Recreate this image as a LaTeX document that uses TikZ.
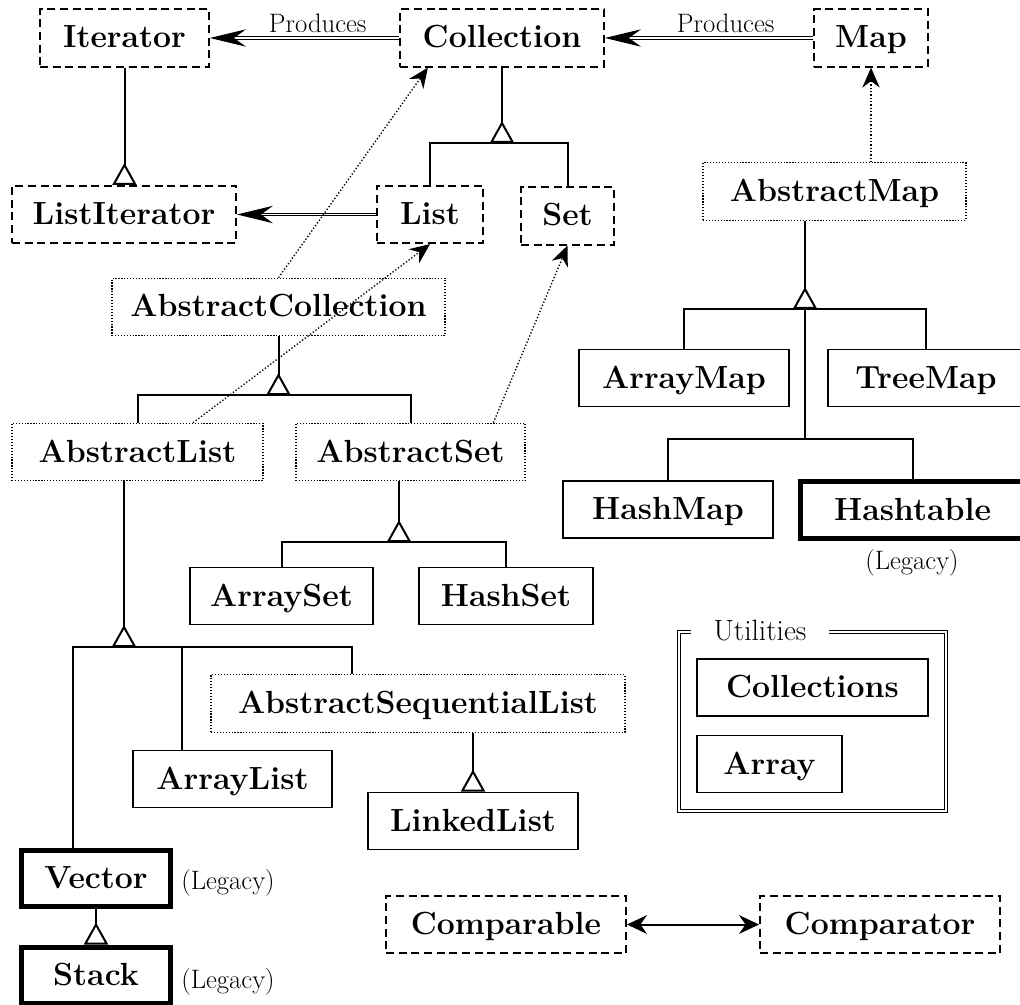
\documentclass[tikz,border=0pt]{standalone}
\usetikzlibrary{arrows.meta,calc}

\tikzset{
  box/.style={draw, line width=1.2pt, minimum height=43pt, inner sep=0pt,
    text height=16pt, text depth=1pt, font=\fontsize{24}{28}\selectfont\bfseries},
  iface/.style={box, line width=1.4pt, dash pattern=on 6pt off 3.5pt},
  abstr/.style={box, line width=0.9pt, dash pattern=on 0.9pt off 1.3pt},
  cls/.style={box},
  legacy/.style={box, line width=3.75pt},
  note/.style={font=\fontsize{20}{24}\selectfont},
  utilframe/.style={draw, double, line width=0.8pt, double distance=2pt, inner sep=0pt},
  bar/.style={line width=1.5pt},
  gen/.style={bar, -{Triangle[reversed, fill=white, width=18pt, length=16.5pt]}},
  produce/.style={double, line width=0.7pt, double distance=1pt,
    -{Stealth[length=27pt, width=13pt, inset=9pt]}},
  dep/.style={line width=1pt, dash pattern=on 1pt off 1.5pt,
    -{Stealth[length=15pt, width=13pt]}},
  assoc/.style={bar, {Stealth[length=15pt, width=14pt]}-{Stealth[length=15pt, width=14pt]}}
}

\begin{document}
\begin{tikzpicture}[x=0.75pt, y=-0.75pt]
  \useasboundingbox (0,0) rectangle (1020,1005);

  % interfaces
  \node[iface, minimum width=126.75pt] (iterator) at (124.5,38) {Iterator};
  \node[iface, minimum width=153pt] (collection) at (502,38) {Collection};
  \node[iface, minimum width=85.5pt] (map) at (871,38) {Map};
  \node[iface, minimum width=168pt] (listiterator) at (124,214.5) {ListIterator};
  \node[iface, minimum width=79.5pt] (list) at (430,214.5) {List};
  \node[iface, minimum width=69.75pt] (set) at (567.5,216) {Set};
  \node[iface, minimum width=180pt] (comparable) at (506,924.5) {Comparable};
  \node[iface, minimum width=180pt] (comparator) at (880,924.5) {Comparator};

  % abstract classes
  \node[abstr, minimum width=197.25pt] (abstractmap) at (834.5,191.5) {AbstractMap};
  \node[abstr, minimum width=249.75pt] (abstractcollection) at (278.5,307) {AbstractCollection};
  \node[abstr, minimum width=188.25pt] (abstractlist) at (137.5,452) {AbstractList};
  \node[abstr, minimum width=171.75pt] (abstractset) at (410.5,452) {AbstractSet};
  \node[abstr, minimum width=310.5pt] (abstractseqlist) at (418,703.5) {AbstractSequentialList};

  % classes
  \node[cls, minimum width=137.25pt] (arrayset) at (281.5,596) {ArraySet};
  \node[cls, minimum width=130.5pt] (hashset) at (506,596) {HashSet};
  \node[cls, minimum width=157.5pt] (arraymap) at (684,378) {ArrayMap};
  \node[cls, minimum width=147pt] (treemap) at (926,378) {TreeMap\hspace{15pt}};
  \node[cls, minimum width=157.5pt] (hashmap) at (668,509.5) {HashMap};
  \node[cls, minimum width=149.25pt] (arraylist) at (232.5,779) {ArrayList};
  \node[cls, minimum width=157.5pt] (linkedlist) at (473,821) {LinkedList};

  % legacy classes
  \node[legacy, minimum width=168pt] (hashtable) at (912.5,510) {Hashtable\hspace{12pt}};
  \node[legacy, minimum width=111.75pt, minimum height=42pt] (vector) at (96,878.5) {Vector};
  \node[legacy, minimum width=111.75pt, minimum height=42pt] (stack) at (96,975) {Stack};
  \node[note] (hashtablenote) at (912,563) {(Legacy)};
  \node[note] (vectornote) at (228,883) {(Legacy)};
  \node[note] (stacknote) at (228,982) {(Legacy)};

  % utilities
  \node[utilframe, minimum width=200.25pt, minimum height=134.25pt] (utilities) at (812.5,721.5) {};
  \node[fill=white, minimum width=104pt, inner sep=2pt, font=\fontsize{22}{26}\selectfont] (utilitiestitle) at (760,631) {Utilities};
  \node[cls, minimum width=173.25pt] (collections) at (812.5,687.5) {Collections};
  \node[cls, minimum width=108.75pt] (array) at (769.5,764) {Array};

  % produces
  \draw[produce] (collection.west) -- (iterator.east)
    node[note, pos=0.43, above] (producesiterator) {Produces};
  \draw[produce] (map.west) -- (collection.east)
    node[note, pos=0.42, above] (producescollection) {Produces};
  \draw[produce] (list.west) -- (listiterator.east);

  % inheritance
  \draw[gen] (iterator.south) -- (iterator.south |- listiterator.north);

  \coordinate (collbar) at (502,143);
  \draw[gen] (collection.south) -- (collbar);
  \draw[bar] (list.north) |- (collbar) -| (set.north);

  \coordinate (acbar) at (278.5,395);
  \draw[gen] (abstractcollection.south) -- (acbar);
  \draw[bar] (abstractlist.north) |- (acbar) -| (abstractset.north);

  \coordinate (asbar) at (399,542);
  \draw[gen] (asbar |- abstractset.south) -- (asbar);
  \draw[bar] (arrayset.north) |- (asbar) -| (hashset.north);

  \coordinate (albar) at (124,647);
  \coordinate (arraylisttop) at ($(arraylist.north west)!0.25!(arraylist.north east)$);
  \draw[gen] (albar |- abstractlist.south) -- (albar);
  \draw[bar] ($(vector.north west)!0.35!(vector.north east)$) |- (albar)
    -| ($(abstractseqlist.north west)!0.34!(abstractseqlist.north east)$);
  \draw[bar] (arraylisttop) -- (arraylisttop |- albar);
  \draw[gen] (abstractseqlist.south -| linkedlist.north) -- (linkedlist.north);
  \draw[gen] (vector.south) -- (stack.north);

  \coordinate (ambar) at (805,309);
  \coordinate (hmbar) at (805,439);
  \draw[gen] (ambar |- abstractmap.south) -- (ambar);
  \draw[bar] (arraymap.north) |- (ambar) -| (treemap.north);
  \draw[bar] (ambar) -- (hmbar);
  \draw[bar] (hashmap.north) |- (hmbar) -| (hashtable.north);

  % implements
  \draw[dep] (abstractcollection.north) -- ($(collection.south west)!0.14!(collection.south east)$);
  \draw[dep] ($(abstractlist.north west)!0.72!(abstractlist.north east)$) -- (list.south);
  \draw[dep] ($(abstractset.north west)!0.86!(abstractset.north east)$) -- (set.south);
  \draw[dep] (map.south |- abstractmap.north) -- (map.south);

  \draw[assoc] (comparable.east) -- (comparator.west);
\end{tikzpicture}
\end{document}
